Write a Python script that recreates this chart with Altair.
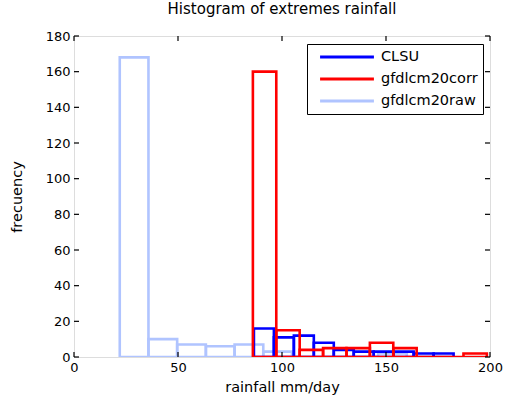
import altair as alt
import pandas as pd

# Series names (legend order) and colours
series = ["CLSU", "gfdlcm20corr", "gfdlcm20raw"]
colors = ["#0000ff", "#ff0000", "#b0c4ff"]

# Bin edges and counts for each series
raw_edges = [22.0, 35.8, 49.6, 63.4, 77.2, 91.0, 104.8, 118.6, 132.4, 146.2, 160.0]
raw_counts = [168, 10, 7, 6, 7, 3, 0, 0, 0, 2]

clsu_edges = [86.5, 96.1, 105.7, 115.3, 124.9, 134.5, 144.1, 153.7, 163.3, 172.9, 182.5]
clsu_counts = [16, 11, 12, 8, 4, 3, 3, 3, 2, 2]

corr_edges = [86.0, 97.25, 108.5, 119.75, 131.0, 142.25, 153.5, 164.75, 176.0, 187.25, 198.5]
corr_counts = [160, 15, 4, 5, 5, 8, 5, 0, 0, 2]

x_ticks = [0, 50, 100, 150, 200]
y_ticks = [0, 20, 40, 60, 80, 100, 120, 140, 160, 180]

W, H = 416, 321
FONT = "DejaVu Sans"


def hist_rows(name, edges, counts):
    return [
        {"series": name, "lo": edges[i], "hi": edges[i + 1], "count": counts[i]}
        for i in range(len(counts))
    ]


# drawing order: raw underneath, corrected on top
rows = (
    hist_rows("gfdlcm20raw", raw_edges, raw_counts)
    + hist_rows("CLSU", clsu_edges, clsu_counts)
    + hist_rows("gfdlcm20corr", corr_edges, corr_counts)
)
df = pd.DataFrame(rows)

xscale = alt.Scale(domain=[0, 200], nice=False, zero=False)
yscale = alt.Scale(domain=[0, 180], nice=False)

axis_text = dict(
    labelFont=FONT, labelFontSize=13, labelColor="black",
    titleFont=FONT, titleFontSize=14.5, titleFontWeight="normal", titleColor="black",
    ticks=False, grid=False, domain=False, labelOverlap=False, labelFlush=False,
)
# one axis definition per direction, shared by every layer
x_axis = alt.Axis(values=x_ticks, labelPadding=4,
                  title="rainfall mm/day", titlePadding=6, **axis_text)
y_axis = alt.Axis(values=y_ticks, labelPadding=4,
                  title="frecuency", titleX=-50, titleY=H / 2, **axis_text)

bars = (
    alt.Chart(df)
    .mark_bar(filled=False, strokeWidth=2.6, clip=True)
    .encode(
        x=alt.X("lo:Q", scale=xscale, axis=x_axis),
        x2="hi:Q",
        y=alt.Y("count:Q", stack=None, scale=yscale, axis=y_axis),
        y2=alt.datum(0),
        color=alt.Color(
            "series:N",
            scale=alt.Scale(domain=series, range=colors),
            legend=alt.Legend(
                title=None, orient="none", legendX=233, legendY=8,
                symbolType="stroke", symbolStrokeWidth=3.2, symbolSize=2900,
                clipHeight=16, rowPadding=6,
                labelFont=FONT, labelFontSize=14.5, labelFontWeight="normal",
                labelColor="black", strokeColor="black", fillColor="white",
                padding=5, labelOffset=5, symbolOffset=6,
                labelLimit=200,
            ),
        ),
    )
)

# inward-pointing tick marks on all four sides of the frame
xt = pd.DataFrame({"v": x_ticks})
yt = pd.DataFrame({"v": y_ticks})
tick_style = dict(color="black", strokeWidth=1.2)
bottom_ticks = alt.Chart(xt).mark_rule(**tick_style).encode(
    x=alt.X("v:Q", scale=xscale, axis=x_axis), y=alt.value(H), y2=alt.value(H - 5))
top_ticks = alt.Chart(xt).mark_rule(**tick_style).encode(
    x=alt.X("v:Q", scale=xscale, axis=x_axis), y=alt.value(0), y2=alt.value(5))
left_ticks = alt.Chart(yt).mark_rule(**tick_style).encode(
    y=alt.Y("v:Q", scale=yscale, axis=y_axis), x=alt.value(0), x2=alt.value(5))
right_ticks = alt.Chart(yt).mark_rule(**tick_style).encode(
    y=alt.Y("v:Q", scale=yscale, axis=y_axis), x=alt.value(W), x2=alt.value(W - 5))

chart = (
    alt.layer(bars, bottom_ticks, top_ticks, left_ticks, right_ticks)
    .properties(
        width=W,
        height=H,
        title=alt.TitleParams(
            "Histogram of extremes rainfall",
            font=FONT, fontSize=15, fontWeight="normal", color="black",
            anchor="middle", offset=13,
        ),
        autosize=alt.AutoSizeParams(type="none"),
        padding={"left": 74, "top": 36, "right": 15, "bottom": 44},
    )
    .configure_view(stroke="black", strokeWidth=2)
    .configure(background="white")
)

chart.save("out.html", embed_options={"renderer": "svg", "actions": False})
